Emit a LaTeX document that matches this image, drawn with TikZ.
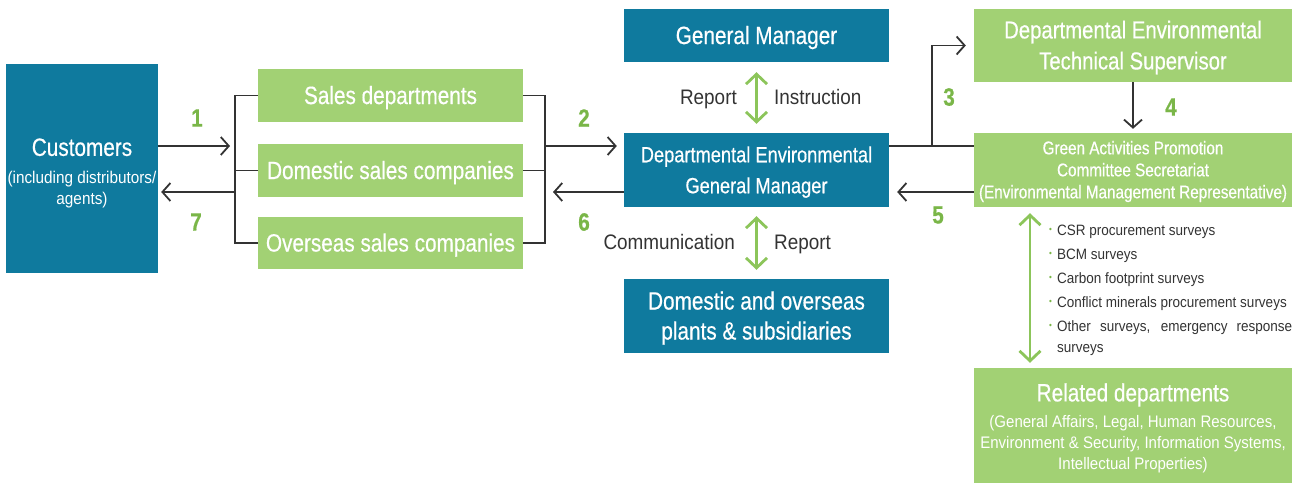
\documentclass[tikz,border=0pt]{standalone}
\usepackage{fontspec}
\setmainfont{Liberation Sans}[FakeStretch=0.83, FakeBold=0.5]
\newfontfamily\lightfont{Liberation Sans}[FakeStretch=0.9]
\usetikzlibrary{arrows.meta, positioning, calc}
\definecolor{cblue}{HTML}{0F7A9E}
\definecolor{cgreen}{HTML}{A2D174}
\definecolor{cnum}{HTML}{7AB648}
\definecolor{carrow}{HTML}{8CC55A}
\definecolor{cdark}{HTML}{333333}
\newcommand\bul{\makebox[8pt][l]{\textcolor{cnum}{\raisebox{3pt}{\fontsize{9}{9}\selectfont •}}}}
\newcommand\lift[1][4pt]{\rule{0pt}{\dimexpr0.73em+#1\relax}}
\newcommand\bigtitle[2][4pt]{{\rmfamily\fontsize{25}{30}\selectfont\lift[#1]#2}}
\tikzset{
  every picture/.style={x=1pt, y=-1pt},
  box/.style={fill=#1, text=white, align=center, inner sep=0pt},
  box/.default=cblue,
  line/.style={draw=cdark, line width=1.8pt},
  arrow/.style={line, -{Straight Barb[length=8pt, width=18pt]}},
  twoway/.style={draw=carrow, line width=2.8pt, {Straight Barb[length=10pt, width=21pt]}-{Straight Barb[length=10pt, width=21pt]}},
  num/.style={font=\bfseries\fontsize{25}{25}\selectfont, text=cnum},
  note/.style={font=\lightfont\fontsize{21}{21}\selectfont, text=cdark, inner sep=0pt},
}

\begin{document}
\begin{tikzpicture}
  \useasboundingbox (0,0) rectangle (1303,483);
  % left column
  \node[box, minimum width=152pt, minimum height=209pt, font=\lightfont\fontsize{17}{21}\selectfont] (cust) at (82,168.5)
    {\bigtitle[8.5pt]{Customers}\\[6.5pt](including distributors/\\agents)};
  \node[box=cgreen, minimum width=265pt, minimum height=53pt, font=\fontsize{25}{30}\selectfont] (sales) at (390.5,95.5) {\lift Sales departments};
  \node[box=cgreen, minimum width=265pt, minimum height=53pt, font=\fontsize{25}{30}\selectfont] (dom) at (390.5,170.5) {\lift Domestic sales companies};
  \node[box=cgreen, minimum width=265pt, minimum height=52pt, font=\fontsize{25}{30}\selectfont] (over) at (390.5,243) {\lift Overseas sales companies};
  % middle column
  \node[box, minimum width=265pt, minimum height=53pt, font=\fontsize{25}{30}\selectfont] (gm) at (756.5,35.5) {\lift General Manager};
  \node[box, minimum width=265pt, minimum height=74pt, font=\fontsize{22}{31}\selectfont] (degm) at (756.5,170) {\lift Departmental Environmental\\General Manager};
  \node[box, minimum width=265pt, minimum height=74pt, font=\fontsize{25}{30}\selectfont] (plants) at (756.5,316) {\lift Domestic and overseas\\plants \& subsidiaries};
  % right column
  \node[box=cgreen, minimum width=318pt, minimum height=73pt, font=\fontsize{24.5}{31}\selectfont] (dets) at (1133,45.5) {\lift Departmental Environmental\\Technical Supervisor};
  \node[box=cgreen, minimum width=318pt, minimum height=74pt, font=\fontsize{18.4}{22}\selectfont] (gapcs) at (1133,170) {\lift[3pt]Green Activities Promotion\\Committee Secretariat\\(Environmental Management Representative)};
  \node[box=cgreen, minimum width=318pt, minimum height=115pt, font=\lightfont\fontsize{16.7}{21}\selectfont] (rel) at (1133,425.5)
    {\bigtitle[5pt]{Related departments}\\[5pt](General Affairs, Legal, Human Resources,\\Environment \& Security, Information Systems,\\Intellectual Properties)};
  \node[anchor=north west, align=left, inner sep=0pt, text=cdark, font=\lightfont\fontsize{15}{24}\selectfont] (srv) at (1049,225)
    {\bul CSR procurement surveys\\
     \bul BCM surveys\\
     \bul Carbon footprint surveys\\
     \bul Conflict minerals procurement surveys\\
     \bul\makebox[235pt][s]{Other surveys, emergency response}\\[-3pt]
     \hspace*{8pt}surveys};

  % sales brackets
  \coordinate (lbr) at (235,146);
  \coordinate (lb7) at (235,192);
  \draw[line] (sales.west) -| (lbr) |- (over.west);
  \draw[line] (dom.west) -- (dom.west -| lbr);
  \draw[arrow, shorten >=5pt] (cust.east |- lbr) -- (lbr);
  \draw[arrow, shorten >=3pt] (lb7) -- (cust.east |- lb7);
  \coordinate (rbr) at (545,146);
  \coordinate (rb6) at (545,192);
  \draw[line] (sales.east) -| (rbr) |- (over.east);
  \draw[line] (dom.east) -- (dom.east -| rbr);
  \draw[arrow, shorten >=7pt] (rbr) -- (degm.west |- rbr);
  \draw[arrow, shorten >=8pt] (degm.west |- rb6) -- (rb6);
  % right side
  \coordinate (br3) at (932,146);
  \coordinate (r5) at (932,192);
  \draw[line] (degm.east |- br3) -- (gapcs.west |- br3);
  \draw[arrow, shorten >=8pt] (br3) |- (dets.west);
  \draw[arrow, shorten >=4pt] (dets.south) -- (gapcs.north);
  \draw[arrow, shorten >=8pt] (gapcs.west |- r5) -- (degm.east |- r5);
  % two-way links
  \coordinate (vx) at (1030,0);
  \draw[twoway, shorten <=10pt, shorten >=9pt] (gm.south) -- (degm.north);
  \draw[twoway, shorten <=9pt, shorten >=9pt] (degm.south) -- (plants.north);
  \draw[twoway, shorten <=6pt, shorten >=5pt] (gapcs.south -| vx) -- (rel.north -| vx);
  \node[note, anchor=base east] (rep1) at (737,104.5) {Report};
  \node[note, anchor=base west] (ins) at (774,104.5) {Instruction};
  \node[note, anchor=base east] (com) at (735,249.5) {Communication};
  \node[note, anchor=base west] (rep2) at (774,249.5) {Report};
  % step numbers
  \node[num] (n1) at (197,118) {1};
  \node[num] (n2) at (584,118) {2};
  \node[num] (n3) at (949,97) {3};
  \node[num] (n4) at (1171,107) {4};
  \node[num] (n5) at (938,215) {5};
  \node[num] (n6) at (584,222) {6};
  \node[num] (n7) at (196,222) {7};
\end{tikzpicture}
\end{document}
